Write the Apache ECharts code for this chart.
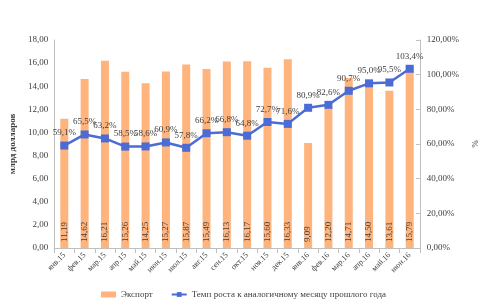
<!DOCTYPE html>
<html lang="ru">
<head>
    <meta charset="utf-8"/>
    <title>Экспорт</title>
    <script src="https://cdn.jsdelivr.net/npm/echarts@6/dist/echarts.min.js"></script>
    <style>
        html, body { margin: 0; background: #FFFFFF; }
        #chart { width: 487px; height: 307px; }
    </style>
</head>
<body>
<div id="chart"></div>
<script>
    var months = ['янв.15', 'фев.15', 'мар.15', 'апр.15', 'май.15', 'июн.15', 'июл.15', 'авг.15', 'сен.15',
        'окт.15', 'ноя.15', 'дек.15', 'янв.16', 'фев.16', 'мар.16', 'апр.16', 'май.16', 'июн.16']
    // экспорт, млрд долларов
    var exportValues = [11.19, 14.62, 16.21, 15.26, 14.25, 15.27, 15.87, 15.49, 16.13,
        16.17, 15.60, 16.33, 9.09, 12.20, 14.71, 14.50, 13.61, 15.79]
    // темп роста, %
    var growthValues = [59.1, 65.5, 63.2, 58.5, 58.6, 60.9, 57.8, 66.2, 66.8,
        64.8, 72.7, 71.6, 80.9, 82.6, 90.7, 95.0, 95.5, 103.4]

    var font = '"Liberation Serif", "Times New Roman", serif'
    var comma = function (v, d) { return v.toFixed(d).replace('.', ',') }

    var chart = echarts.init(document.getElementById('chart'), null, { renderer: 'canvas' })
    chart.setOption({
        animation: false,
        textStyle: { fontFamily: font },
        grid: { left: 38, right: 62, top: 40, bottom: 59 },
        legend: {
            bottom: 3,
            left: 96,
            itemGap: 18,
            itemWidth: 15,
            itemHeight: 6,
            textStyle: { fontFamily: font, fontSize: 9, color: '#404040' },
            data: [
                { name: 'Экспорт', icon: 'rect' },
                { name: 'Темп роста к аналогичному месяцу прошлого года' }
            ]
        },
        xAxis: {
            type: 'category',
            data: months,
            axisLine: { lineStyle: { color: '#BFBFBF' } },
            axisTick: { show: true, lineStyle: { color: '#BFBFBF' } },
            axisLabel: { rotate: 45, fontSize: 8, color: '#404040', fontFamily: font, interval: 0, margin: 6 }
        },
        yAxis: [{
            type: 'value',
            min: 0, max: 18, interval: 2,
            name: 'млрд долларов',
            nameLocation: 'middle',
            nameRotate: 90,
            nameGap: 30,
            nameTextStyle: { fontSize: 9, fontWeight: 'bold', color: '#404040', fontFamily: font },
            axisLine: { show: true, lineStyle: { color: '#BFBFBF' } },
            axisTick: { show: false },
            splitLine: { show: false },
            axisLabel: { fontSize: 9, color: '#404040', fontFamily: font, margin: 6,
                formatter: function (v) { return comma(v, 2) } }
        }, {
            type: 'value',
            min: 0, max: 120, interval: 20,
            name: '%',
            nameLocation: 'middle',
            nameRotate: -90,
            nameGap: 46,
            nameTextStyle: { fontSize: 9, color: '#404040', fontFamily: font },
            axisLine: { show: true, lineStyle: { color: '#BFBFBF' } },
            axisTick: { show: true, inside: true, length: 4, lineStyle: { color: '#BFBFBF' } },
            splitLine: { show: false },
            axisLabel: { fontSize: 9, color: '#404040', fontFamily: font, margin: 7,
                formatter: function (v) { return comma(v, 2) + '%' } }
        }],
        series: [{
            name: 'Экспорт',
            type: 'bar',
            data: exportValues,
            barWidth: 8,
            itemStyle: { color: '#FFB47D' },
            label: {
                show: true,
                position: 'insideBottom',
                rotate: 90,
                align: 'left',
                verticalAlign: 'middle',
                distance: 6,
                fontSize: 9,
                color: '#404040',
                fontFamily: font,
                formatter: function (p) { return comma(p.value, 2) }
            }
        }, {
            name: 'Темп роста к аналогичному месяцу прошлого года',
            type: 'line',
            yAxisIndex: 1,
            data: growthValues,
            symbol: 'rect',
            symbolSize: 8,
            lineStyle: { color: '#4A6CD4', width: 2.5 },
            itemStyle: { color: '#4A6CD4' },
            label: {
                show: true,
                position: 'top',
                distance: 4,
                fontSize: 9,
                color: '#404040',
                fontFamily: font,
                formatter: function (p) { return comma(p.value, 1) + '%' }
            }
        }]
    })
</script>
</body>
</html>
